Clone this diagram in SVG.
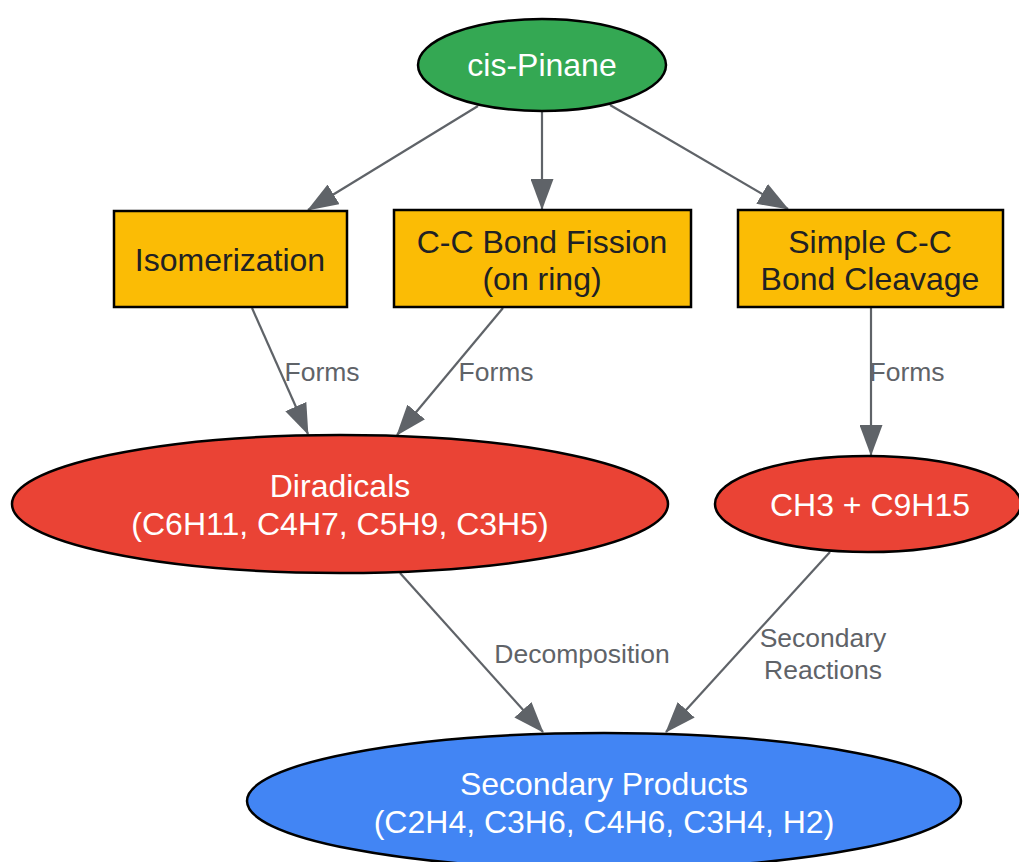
<svg xmlns="http://www.w3.org/2000/svg" width="1019" height="862" viewBox="0 0 1019 862">
<style>
.node{stroke:#000;stroke-width:2.5}
.t{font-family:"Liberation Sans",Arial,sans-serif;font-size:32px;text-anchor:middle}
.w{fill:#fff}
.d{fill:#202124}
.e{stroke:#5f6368;stroke-width:2.2;fill:none}
.l{font-family:"Liberation Sans",Arial,sans-serif;font-size:26.5px;text-anchor:middle;fill:#5f6368}
</style>
<defs>
<marker id="ah" markerUnits="userSpaceOnUse" markerWidth="31" markerHeight="23" refX="30" refY="11.5" orient="auto">
<path d="M0,0 L31,11.5 L0,23 z" fill="#5f6368"/>
</marker>
</defs>
<rect width="1019" height="862" fill="#fff"/>
<g id="connectors">
<line class="e" x1="478" y1="106" x2="308" y2="210" marker-end="url(#ah)"/>
<line class="e" x1="542" y1="111" x2="542" y2="209" marker-end="url(#ah)"/>
<line class="e" x1="610" y1="105" x2="788" y2="209" marker-end="url(#ah)"/>
<line class="e" x1="252" y1="308" x2="308" y2="434" marker-end="url(#ah)"/>
<line class="e" x1="503" y1="308" x2="397" y2="435" marker-end="url(#ah)"/>
<line class="e" x1="871" y1="308" x2="871" y2="455" marker-end="url(#ah)"/>
<line class="e" x1="400" y1="573" x2="543" y2="732" marker-end="url(#ah)"/>
<line class="e" x1="830" y1="552" x2="666" y2="732" marker-end="url(#ah)"/>
<text class="l" x="322" y="381">Forms</text>
<text class="l" x="496" y="381">Forms</text>
<text class="l" x="907" y="381">Forms</text>
<text class="l" x="582" y="663">Decomposition</text>
<text class="l" x="823" y="647">Secondary</text>
<text class="l" x="823" y="679">Reactions</text>
</g>
<g id="cis-pinane">
<ellipse class="node" cx="542" cy="65" rx="124" ry="46" fill="#34a853"/>
<text class="t w" x="542" y="76">cis-Pinane</text>
</g>
<g id="isomerization">
<rect class="node" x="114" y="211" width="233" height="96" fill="#fbbc05"/>
<text class="t d" x="230" y="271">Isomerization</text>
</g>
<g id="cc-fission">
<rect class="node" x="394" y="210" width="297" height="97" fill="#fbbc05"/>
<text class="t d" x="542" y="253">C-C Bond Fission</text>
<text class="t d" x="542" y="290">(on ring)</text>
</g>
<g id="simple-cleavage">
<rect class="node" x="738" y="210" width="265" height="97" fill="#fbbc05"/>
<text class="t d" x="870" y="253">Simple C-C</text>
<text class="t d" x="870" y="290">Bond Cleavage</text>
</g>
<g id="diradicals">
<ellipse class="node" cx="340" cy="504" rx="328" ry="69" fill="#ea4335"/>
<text class="t w" x="340" y="497">Diradicals</text>
<text class="t w" x="340" y="535">(C6H11, C4H7, C5H9, C3H5)</text>
</g>
<g id="ch3">
<ellipse class="node" cx="868" cy="504" rx="153" ry="48" fill="#ea4335"/>
<text class="t w" x="870" y="516">CH3 + C9H15</text>
</g>
<g id="secondary-products">
<ellipse class="node" cx="604" cy="801" rx="357" ry="68" fill="#4285f4"/>
<text class="t w" x="604" y="795">Secondary Products</text>
<text class="t w" x="604" y="833">(C2H4, C3H6, C4H6, C3H4, H2)</text>
</g>
</svg>
